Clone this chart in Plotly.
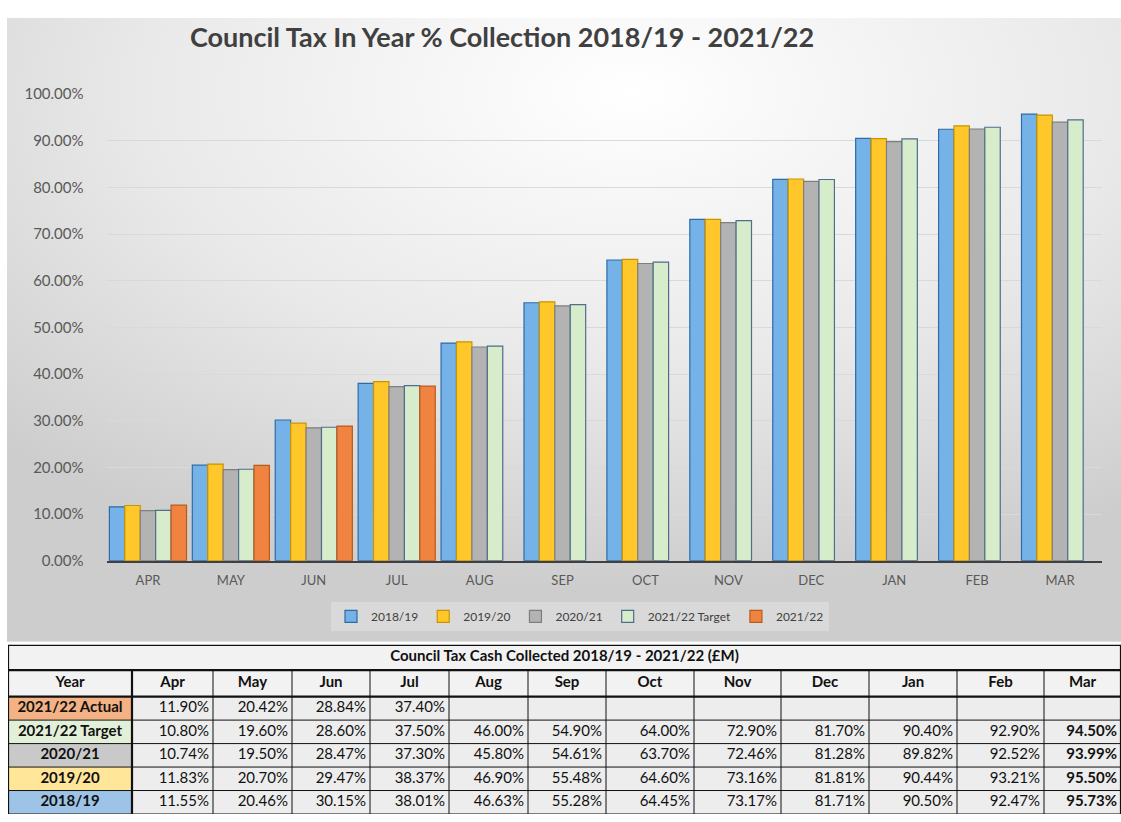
import base64
import plotly.graph_objects as go

# ---------------- data ----------------
months_axis = ["APR", "MAY", "JUN", "JUL", "AUG", "SEP", "OCT", "NOV", "DEC", "JAN", "FEB", "MAR"]
months_table = ["Apr", "May", "Jun", "Jul", "Aug", "Sep", "Oct", "Nov", "Dec", "Jan", "Feb", "Mar"]

y2018_19 = [11.55, 20.46, 30.15, 38.01, 46.63, 55.28, 64.45, 73.17, 81.71, 90.50, 92.47, 95.73]
y2019_20 = [11.83, 20.70, 29.47, 38.37, 46.90, 55.48, 64.60, 73.16, 81.81, 90.44, 93.21, 95.50]
y2020_21 = [10.74, 19.50, 28.47, 37.30, 45.80, 54.61, 63.70, 72.46, 81.28, 89.82, 92.52, 93.99]
y2021_22_target = [10.80, 19.60, 28.60, 37.50, 46.00, 54.90, 64.00, 72.90, 81.70, 90.40, 92.90, 94.50]
y2021_22_actual = [11.90, 20.42, 28.84, 37.40, None, None, None, None, None, None, None, None]

series_names = ["2018/19", "2019/20", "2020/21", "2021/22 Target", "2021/22"]
series_values = [y2018_19, y2019_20, y2020_21, y2021_22_target, y2021_22_actual]
series_fill = ["#74B2E8", "#FFC72A", "#B3B3B3", "#D7ECCB", "#F0833F"]
series_line = ["#2F6BA8", "#C89500", "#7F7F7F", "#4F6D8C", "#B85A1C"]

table_row_labels = ["2021/22 Actual", "2021/22 Target", "2020/21", "2019/20", "2018/19"]
table_row_values = [y2021_22_actual, y2021_22_target, y2020_21, y2019_20, y2018_19]
table_row_fill = ["#F4B183", "#E2F0D9", "#C9C9C9", "#FFE699", "#9DC3E6"]

chart_title = "Council Tax In Year % Collection 2018/19 - 2021/22"
table_title = "Council Tax Cash Collected 2018/19 - 2021/22 (£M)"

# ---------------- layout geometry (table grid, in pixel units) ----------------
W, H = 1121, 822
FONT = "Lato"
col_edges = [0, 124, 205, 284, 362, 441, 520, 598, 686, 773, 861, 949, 1036, 1113]
row_edges = [0, 26, 53, 77, 101, 125, 149, 173]   # title, header, 5 data rows
TABLE_LEFT = 8
TABLE_TOP = 649

fig = go.Figure()

for name, vals, fc, lc in zip(series_names, series_values, series_fill, series_line):
    fig.add_trace(go.Bar(
        x=months_axis, y=vals, name=name,
        marker=dict(color=fc, line=dict(color=lc, width=1.2)),
        hoverinfo="x+y+name",
    ))

# ---------------- table (heatmap fills + text on its own axes) ----------------
palette = ["#F2F2F2", "#EDEDED"] + table_row_fill
z = [[0] * 13, [0] * 13]
for i in range(len(table_row_labels)):
    z.append([2 + i] + [1] * 12)
n = len(palette) - 1
colorscale = [[k / n, c] for k, c in enumerate(palette)]

fig.add_trace(go.Heatmap(
    x=col_edges, y=row_edges, z=z, zmin=0, zmax=n, colorscale=colorscale,
    showscale=False, hoverinfo="skip", xaxis="x2", yaxis="y2",
))

col_centers = [(col_edges[k] + col_edges[k + 1]) / 2 for k in range(13)]
row_centers = [(row_edges[k] + row_edges[k + 1]) / 2 for k in range(7)]

# centred texts: title, header, row labels
cx, cy, ct = [(col_edges[0] + col_edges[-1]) / 2], [row_centers[0]], [f"<b>{table_title}</b>"]
for k, lab in enumerate(["Year"] + months_table):
    cx.append(col_centers[k]); cy.append(row_centers[1]); ct.append(f"<b>{lab}</b>")
for i, lab in enumerate(table_row_labels):
    cx.append(col_centers[0]); cy.append(row_centers[2 + i]); ct.append(f"<b>{lab}</b>")
fig.add_trace(go.Scatter(
    x=cx, y=cy, text=ct, mode="text", textposition="middle center",
    textfont=dict(family=FONT, size=15, color="#111111"),
    hoverinfo="skip", showlegend=False, cliponaxis=False, xaxis="x2", yaxis="y2",
))

# right-aligned numbers
nx, ny, nt = [], [], []
for i, row in enumerate(table_row_values):
    for j, v in enumerate(row):
        if v is None:
            continue
        s = f"{v:.2f}%"
        nx.append(col_edges[j + 2] - 4)
        ny.append(row_centers[2 + i])
        nt.append(f"<b>{s}</b>" if j == 11 else s)
fig.add_trace(go.Scatter(
    x=nx, y=ny, text=nt, mode="text", textposition="middle left",
    textfont=dict(family=FONT, size=15, color="#111111"),
    hoverinfo="skip", showlegend=False, cliponaxis=False, xaxis="x2", yaxis="y2",
))

# grid lines of the table
shapes = []
LC = "#111111"
for k, ye in enumerate(row_edges):
    thick = k in (0, 1, 2)
    shapes.append(dict(type="line", xref="x2", yref="y2", x0=col_edges[0], x1=col_edges[-1],
                       y0=ye, y1=ye, line=dict(color=LC, width=2.2 if thick else 1)))
for k, xe in enumerate(col_edges):
    outer = k in (0, len(col_edges) - 1)
    y_start = row_edges[0] if outer else row_edges[1]
    shapes.append(dict(type="line", xref="x2", yref="y2", x0=xe, x1=xe,
                       y0=y_start, y1=row_edges[-1],
                       line=dict(color=LC, width=2.2 if (outer or k == 1) else 1)))

# ---------------- background gradient panel ----------------
svg = ("<svg xmlns='http://www.w3.org/2000/svg' width='1114' height='638' preserveAspectRatio='none'>"
       "<defs><radialGradient id='g' cx='0.56' cy='0.12' r='0.8'>"
       "<stop offset='0' stop-color='#ffffff'/><stop offset='0.55' stop-color='#e9e9e9'/>"
       "<stop offset='1' stop-color='#cdcdcd'/></radialGradient></defs>"
       "<rect width='100%' height='100%' fill='url(#g)'/></svg>")
src = "data:image/svg+xml;base64," + base64.b64encode(svg.encode()).decode()

table_h = row_edges[-1]
fig.update_layout(
    width=W, height=H, autosize=False,
    margin=dict(l=0, r=0, t=0, b=0),
    paper_bgcolor="white", plot_bgcolor="rgba(0,0,0,0)",
    font=dict(family=FONT, color="#595959"),
    title=dict(text=f"<b>{chart_title}</b>", x=502 / W, y=(H - 38) / H,
               xanchor="center", yanchor="middle",
               font=dict(family=FONT, size=27, color="#404040")),
    barmode="group", bargap=0.07, bargroupgap=0.0,
    xaxis=dict(domain=[106.5 / W, 1101.5 / W], showline=True, linecolor="#404040",
               linewidth=2, ticks="", tickfont=dict(size=13, color="#595959"),
               ticklabelstandoff=7, showgrid=False, fixedrange=True),
    yaxis=dict(domain=[(H - 563) / H, (H - 86) / H], range=[0, 100], dtick=10,
               tickformat=".2f", ticksuffix="%", showgrid=True, gridcolor="#D9D9D9",
               gridwidth=1, zeroline=False, showline=False, fixedrange=True,
               tickfont=dict(size=15, color="#595959"), ticklabelstandoff=22),
    xaxis2=dict(domain=[TABLE_LEFT / W, (TABLE_LEFT + col_edges[-1]) / W],
                range=[col_edges[0], col_edges[-1]], visible=False, fixedrange=True),
    yaxis2=dict(domain=[(H - TABLE_TOP - table_h) / H, (H - TABLE_TOP) / H],
                range=[table_h, 0], visible=False, fixedrange=True),
    legend=dict(orientation="h", x=580 / W, y=(H - 620) / H, xanchor="center",
                yanchor="middle", font=dict(size=12, color="#404040"),
                bgcolor="rgba(255,255,255,0.25)", traceorder="normal"),
    images=[dict(source=src, xref="paper", yref="paper", x=7 / W, y=(H - 8) / H,
                 sizex=(W - 7) / W, sizey=(646 - 8) / H, sizing="stretch",
                 xanchor="left", yanchor="top", layer="below")],
    shapes=shapes,
    showlegend=True,
)

fig.write_html("out.html")
